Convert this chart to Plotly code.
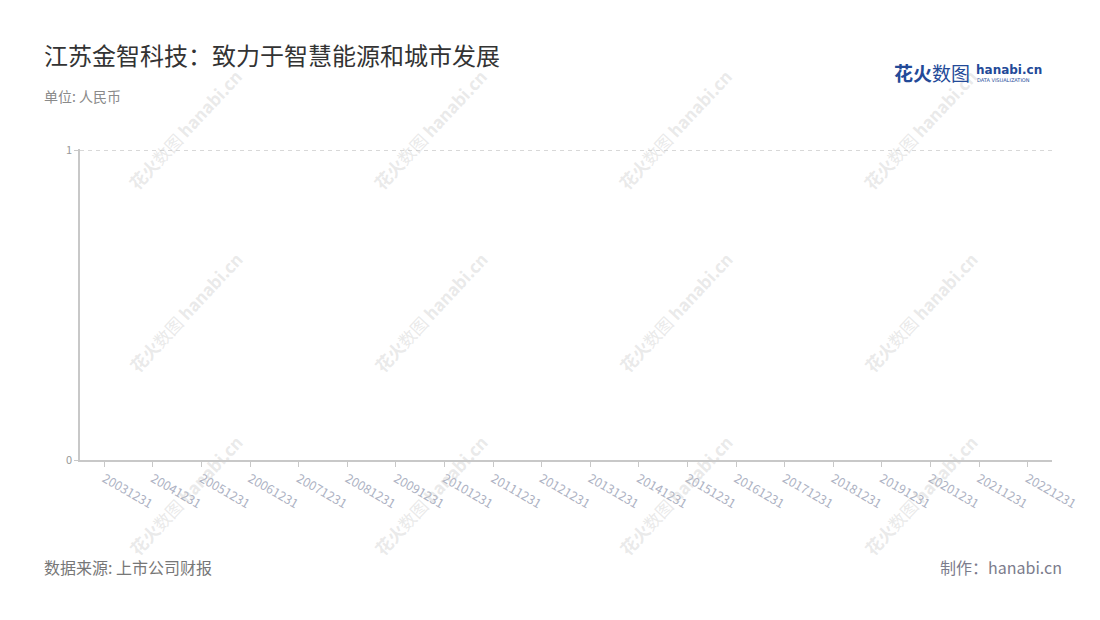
import plotly.graph_objects as go

# data (chart is empty in the source: no values reported)
dates = ['20031231', '20041231', '20051231', '20061231', '20071231',
         '20081231', '20091231', '20101231', '20111231', '20121231',
         '20131231', '20141231', '20151231', '20161231', '20171231',
         '20181231', '20191231', '20201231', '20211231', '20221231']
values = [None, None, None, None, None, None, None, None, None, None,
          None, None, None, None, None, None, None, None, None, None]
y_ticks = [0, 1]

W, H = 1100, 620
OFF = 8  # page body margin
L, T = 80 - OFF, 149 - OFF
R = W - (1052 - OFF)
B = H - (460 - OFF)
FONT = 'Noto Sans CJK SC'


def px(x, y):
    # screenshot pixel position -> paper coords
    x, y = x - OFF, y - OFF
    return (x - L) / (W - L - R), (H - B - y) / (H - T - B)


fig = go.Figure()
fig.add_trace(go.Scatter(x=dates, y=values, mode='lines', showlegend=False,
                         line=dict(color='#3b6fd1')))

fig.update_layout(
    width=W, height=H,
    margin=dict(l=L, r=R, t=T, b=B),
    paper_bgcolor='white', plot_bgcolor='white',
    font=dict(family=FONT, color='#999'),
    xaxis=dict(type='category', categoryarray=dates, range=[-0.5, len(dates) - 0.5],
               showline=True, linecolor='#c8c8c8', linewidth=1.5,
               ticks='outside', ticklen=5, tickcolor='#c8c8c8',
               tickangle=30, tickfont=dict(size=12.5, color='#adb2c3', family=FONT),
               showgrid=False, zeroline=False, fixedrange=True),
    yaxis=dict(range=[0, 1.004], tickvals=y_ticks, ticktext=[str(v) for v in y_ticks],
               showline=True, linecolor='#c8c8c8', linewidth=1.5,
               ticks='outside', ticklen=4, tickcolor='#c8c8c8',
               tickfont=dict(size=11, color='#999'),
               showgrid=True, gridcolor='#d8d8d8', griddash='4px,4px', gridwidth=1,
               zeroline=False, fixedrange=True),
)

ann = []
# watermarks
for cx in [185, 430, 675, 920]:
    for cy in [130, 312, 495]:
        x, y = px(cx, cy)
        ann.append(dict(xref='paper', yref='paper', x=x, y=y, showarrow=False,
                        xanchor='center', yanchor='middle',
                        text='<b>花火</b>数图 <b>hanabi.cn</b>', textangle=-47,
                        font=dict(size=17, color='rgba(200,200,200,0.4)', family=FONT)))

# titles
x, y = px(42, 55)
ann.append(dict(xref='paper', yref='paper', x=x, y=y, xanchor='left', yanchor='middle',
                showarrow=False, text='江苏金智科技：致力于智慧能源和城市发展',
                font=dict(size=24, color='#333', family=FONT)))
x, y = px(42, 96)
ann.append(dict(xref='paper', yref='paper', x=x, y=y, xanchor='left', yanchor='middle',
                showarrow=False, text='单位: 人民币',
                font=dict(size=14, color='#8a8a8a', family=FONT)))
x, y = px(42, 567)
ann.append(dict(xref='paper', yref='paper', x=x, y=y, xanchor='left', yanchor='middle',
                showarrow=False, text='数据来源: 上市公司财报',
                font=dict(size=16, color='#777', family=FONT)))
x, y = px(1064, 567)
ann.append(dict(xref='paper', yref='paper', x=x, y=y, xanchor='right', yanchor='middle',
                showarrow=False, text='制作：hanabi.cn',
                font=dict(size=16, color='#7c7c8c', family=FONT)))

# logo top right
x, y = px(892, 72)
ann.append(dict(xref='paper', yref='paper', x=x, y=y, xanchor='left', yanchor='middle',
                showarrow=False, text='<b>花火</b>数图',
                font=dict(size=19, color='#234a98', family=FONT)))
x, y = px(974, 70)
ann.append(dict(xref='paper', yref='paper', x=x, y=y, xanchor='left', yanchor='middle',
                showarrow=False, text='<b>hanabi.cn</b>',
                font=dict(size=12, color='#234a98', family='DejaVu Sans')))
x, y = px(975, 80)
ann.append(dict(xref='paper', yref='paper', x=x, y=y, xanchor='left', yanchor='middle',
                showarrow=False, text='DATA VISUALIZATION',
                font=dict(size=5, color='#234a98', family='DejaVu Sans')))

fig.update_layout(annotations=ann)
fig.write_html('out.html')
